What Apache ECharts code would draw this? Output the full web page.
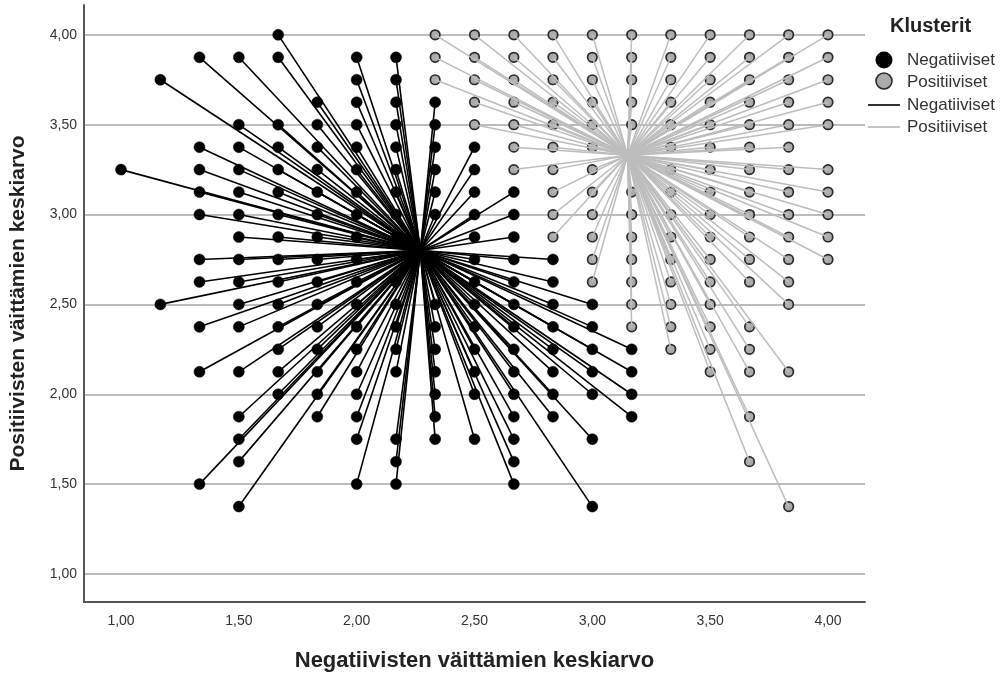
<!DOCTYPE html>
<html>
<head>
<meta charset="utf-8">
<script src="https://cdn.jsdelivr.net/npm/echarts@6/dist/echarts.min.js"></script>
<style>
html,body{margin:0;padding:0;background:#fff;}
#chart{width:1003px;height:677px;}
</style>
</head>
<body>
<div id="chart"></div>
<script>
// Cluster members: [x (negatiivisten keskiarvo), [y values (positiivisten keskiarvo)]]
const negativeColumns = [
  [1.000, [3.25]],
  [1.167, [3.75, 2.5]],
  [1.333, [3.875, 3.375, 3.25, 3.125, 3.0, 2.75, 2.625, 2.375, 2.125, 1.5]],
  [1.500, [3.875, 3.5, 3.375, 3.25, 3.125, 3.0, 2.875, 2.75, 2.625, 2.5, 2.375, 2.125, 1.875, 1.75, 1.625, 1.375]],
  [1.667, [4.0, 3.875, 3.5, 3.375, 3.25, 3.125, 3.0, 2.875, 2.75, 2.625, 2.5, 2.375, 2.25, 2.125, 2.0]],
  [1.833, [3.625, 3.5, 3.375, 3.25, 3.125, 3.0, 2.875, 2.75, 2.625, 2.5, 2.375, 2.25, 2.125, 2.0, 1.875]],
  [2.000, [3.875, 3.75, 3.625, 3.5, 3.375, 3.25, 3.125, 3.0, 2.875, 2.75, 2.625, 2.5, 2.375, 2.25, 2.125, 2.0, 1.875, 1.75, 1.5]],
  [2.167, [3.875, 3.75, 3.625, 3.5, 3.375, 3.25, 3.125, 3.0, 2.875, 2.625, 2.5, 2.375, 2.25, 2.125, 1.75, 1.625, 1.5]],
  [2.333, [3.625, 3.5, 3.375, 3.25, 3.125, 3.0, 2.5, 2.375, 2.25, 2.125, 2.0, 1.875, 1.75]],
  [2.500, [3.375, 3.25, 3.125, 3.0, 2.875, 2.75, 2.625, 2.5, 2.375, 2.25, 2.125, 2.0, 1.75]],
  [2.667, [3.125, 3.0, 2.875, 2.75, 2.625, 2.5, 2.375, 2.25, 2.125, 2.0, 1.875, 1.75, 1.625, 1.5]],
  [2.833, [2.75, 2.625, 2.5, 2.375, 2.25, 2.125, 2.0, 1.875]],
  [3.000, [2.5, 2.375, 2.25, 2.125, 2.0, 1.75, 1.375]],
  [3.167, [2.25, 2.125, 2.0, 1.875]]
];
const positiveColumns = [
  [2.333, [4.0, 3.875, 3.75]],
  [2.500, [4.0, 3.875, 3.75, 3.625, 3.5]],
  [2.667, [4.0, 3.875, 3.75, 3.625, 3.5, 3.375, 3.25]],
  [2.833, [4.0, 3.875, 3.75, 3.625, 3.5, 3.375, 3.25, 3.125, 3.0, 2.875]],
  [3.000, [4.0, 3.875, 3.75, 3.625, 3.5, 3.375, 3.25, 3.125, 3.0, 2.875, 2.75, 2.625]],
  [3.167, [4.0, 3.875, 3.75, 3.625, 3.5, 3.125, 3.0, 2.875, 2.75, 2.625, 2.5, 2.375]],
  [3.333, [4.0, 3.875, 3.75, 3.625, 3.5, 3.375, 3.25, 3.125, 3.0, 2.875, 2.75, 2.625, 2.5, 2.375, 2.25]],
  [3.500, [4.0, 3.875, 3.75, 3.625, 3.5, 3.375, 3.25, 3.125, 3.0, 2.875, 2.75, 2.625, 2.5, 2.375, 2.25, 2.125]],
  [3.667, [4.0, 3.875, 3.75, 3.625, 3.5, 3.375, 3.25, 3.125, 3.0, 2.875, 2.75, 2.625, 2.375, 2.25, 2.125, 1.875, 1.625]],
  [3.833, [4.0, 3.875, 3.75, 3.625, 3.5, 3.375, 3.25, 3.125, 3.0, 2.875, 2.75, 2.625, 2.5, 2.125, 1.375]],
  [4.000, [4.0, 3.875, 3.75, 3.625, 3.5, 3.25, 3.125, 3.0, 2.875, 2.75]]
];
const negativeCenter = [2.27, 2.80];
const positiveCenter = [3.15, 3.33];
const xTicks = [1.0, 1.5, 2.0, 2.5, 3.0, 3.5, 4.0];
const yTicks = [1.0, 1.5, 2.0, 2.5, 3.0, 3.5, 4.0];
const clusterNames = ['Negatiiviset', 'Positiiviset'];
const legendTitle = 'Klusterit';
const xTitle = 'Negatiivisten väittämien keskiarvo';
const yTitle = 'Positiivisten väittämien keskiarvo';

function flatten(cols) {
  const out = [];
  cols.forEach(c => c[1].forEach(y => out.push([c[0], y])));
  return out;
}
const negPoints = flatten(negativeColumns);
const posPoints = flatten(positiveColumns);
const negLines = negPoints.map(p => ({ coords: [p, negativeCenter] }));
const posLines = posPoints.map(p => ({ coords: [p, positiveCenter] }));
const fmt = v => v.toFixed(2).replace('.', ',');
const FONT = '"Liberation Sans", Arial, sans-serif';

const chart = echarts.init(document.getElementById('chart'), null, { renderer: 'canvas' });
chart.setOption({
  animation: false,
  backgroundColor: '#ffffff',
  grid: { left: 83, right: 138, top: 5, bottom: 74 },
  xAxis: {
    type: 'value', min: 0.843, max: 4.157,
    name: xTitle, nameLocation: 'middle', nameGap: 48,
    nameTextStyle: { fontFamily: FONT, fontSize: 22, fontWeight: 'bold', color: '#222' },
    axisLine: { show: true, onZero: false, lineStyle: { color: '#555', width: 2 } },
    axisTick: { show: false },
    splitLine: { show: false },
    axisLabel: { customValues: xTicks, formatter: fmt, fontFamily: FONT, fontSize: 14, color: '#333', margin: 12 }
  },
  yAxis: {
    type: 'value', min: 0.844, max: 4.166,
    name: yTitle, nameLocation: 'middle', nameGap: 55, nameRotate: 90,
    nameTextStyle: { fontFamily: FONT, fontSize: 21, fontWeight: 'bold', color: '#222' },
    axisLine: { show: true, onZero: false, lineStyle: { color: '#555', width: 2 } },
    axisTick: { show: false },
    splitLine: { show: false },
    axisLabel: { customValues: yTicks, formatter: fmt, fontFamily: FONT, fontSize: 14, color: '#333', margin: 7 }
  },
  series: [
    {
      type: 'line', data: [], z: 0, silent: true,
      markLine: {
        z: 0, silent: true, symbol: ['none', 'none'], label: { show: false },
        lineStyle: { color: '#bcbcbc', width: 2, type: 'solid' },
        data: yTicks.map(v => ({ yAxis: v }))
      }
    },
    {
      name: clusterNames[0], type: 'scatter', z: 2, data: negPoints,
      symbol: 'circle', symbolSize: 11,
      itemStyle: { color: '#000', borderColor: '#000', borderWidth: 0.5, opacity: 1 }
    },
    {
      name: clusterNames[1], type: 'scatter', z: 2, data: posPoints,
      symbol: 'circle', symbolSize: 9.5,
      itemStyle: { color: '#ababab', borderColor: '#2a2a2a', borderWidth: 1.7, opacity: 1 }
    },
    {
      name: clusterNames[0] + ' ', type: 'lines', coordinateSystem: 'cartesian2d', z: 3,
      data: negLines, polyline: false, silent: true,
      lineStyle: { color: '#000', width: 1.6, opacity: 1 }
    },
    {
      name: clusterNames[1] + ' ', type: 'lines', coordinateSystem: 'cartesian2d', z: 3,
      data: posLines, polyline: false, silent: true,
      lineStyle: { color: '#bdbdbd', width: 1.5, opacity: 1 }
    }
  ],
  graphic: [
    { type: 'text', left: 890, top: 16, style: { text: legendTitle, font: 'bold 20px ' + FONT, fill: '#222' } },
    { type: 'circle', shape: { cx: 884, cy: 60, r: 8.5 }, style: { fill: '#000' } },
    { type: 'text', x: 907, y: 60, style: { text: clusterNames[0], font: '17px ' + FONT, fill: '#333', verticalAlign: 'middle' } },
    { type: 'circle', shape: { cx: 884, cy: 81, r: 8 }, style: { fill: '#ababab', stroke: '#2a2a2a', lineWidth: 1.6 } },
    { type: 'text', x: 907, y: 82, style: { text: clusterNames[1], font: '17px ' + FONT, fill: '#333', verticalAlign: 'middle' } },
    { type: 'line', shape: { x1: 868, y1: 105, x2: 900, y2: 105 }, style: { stroke: '#333', lineWidth: 2 } },
    { type: 'text', x: 907, y: 105, style: { text: clusterNames[0], font: '17px ' + FONT, fill: '#333', verticalAlign: 'middle' } },
    { type: 'line', shape: { x1: 868, y1: 127, x2: 900, y2: 127 }, style: { stroke: '#c4c4c4', lineWidth: 2 } },
    { type: 'text', x: 907, y: 127, style: { text: clusterNames[1], font: '17px ' + FONT, fill: '#333', verticalAlign: 'middle' } }
  ]
});
</script>
</body>
</html>
